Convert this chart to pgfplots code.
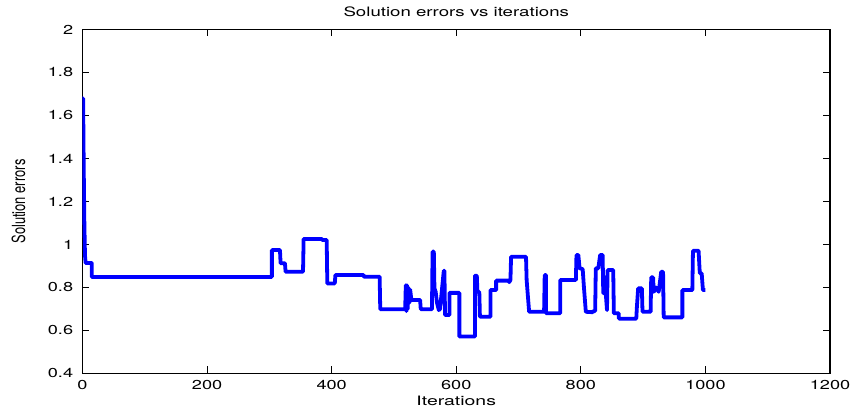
\documentclass[border=0pt]{standalone}
\usepackage{fontspec}
\setmainfont{TeX Gyre Heros}
\usepackage{pgfplots}
\pgfplotsset{compat=1.18}
\begin{document}
\begin{tikzpicture}
\useasboundingbox (-82.5bp,-37.5bp) rectangle (772.5bp,373.5bp);
\begin{axis}[
  at={(0,0)}, anchor=south west,
  scale only axis, width=747.5bp, height=344bp,
  xmin=0, xmax=1200, ymin=0.4, ymax=2,
  xtick={0,200,400,600,800,1000,1200},
  ytick={0.4,0.6,0.8,1,1.2,1.4,1.6,1.8,2},
  scaled x ticks=false,
  /pgf/number format/1000 sep={},
  /pgf/number format/assume math mode=true,
  tick align=inside,
  major tick length=7bp,
  axis line style={line width=1.2bp},
  every tick/.style={black, line width=0.8bp},
  ticklabel style={font=\fontsize{13}{15}\selectfont, xscale=1.4},
  xticklabel style={anchor=base, yshift=-16.5bp},
  yticklabel style={anchor=east, inner sep=0pt, xshift=-6.5bp},
  title={\scalebox{1.44}[1]{Solution errors vs iterations}},
  title style={font=\fontsize{13}{15}\selectfont, at={(axis description cs:0.5,1)}, anchor=base, yshift=7.5bp},
  xlabel={\scalebox{1.5}[1]{Iterations}},
  xlabel style={font=\fontsize{13}{15}\selectfont, at={(axis description cs:0.5,0)}, anchor=base, yshift=-32.5bp},
  ylabel={\scalebox{1}[1.4]{Solution errors}},
  ylabel style={font=\fontsize{13}{15}\selectfont, at={(axis description cs:0,0.5)}, anchor=center, yshift=64bp},
]
\addplot[color={rgb,255:red,0;green,0;blue,255}, line width=3.8bp, line join=round] coordinates {
(0,1.68)(1,1.68)(2,1.35)(3,1.1)(4,0.95)(5,0.914)(15,0.914)(15,0.849)
(304,0.849)(304,0.974)(317,0.974)(318,0.913)(325,0.913)(326,0.873)
(354,0.873)(355,1.026)(384,1.026)(385,1.021)(392,1.021)(393,0.819)
(405,0.819)(406,0.858)(451,0.858)(452,0.85)(477,0.85)(478,0.699)
(518,0.699)(519,0.81)(520,0.69)(521,0.81)(522,0.70)(523,0.80)(525,0.73)
(526,0.79)(528,0.742)(542,0.742)(543,0.699)(561,0.699)(562,0.967)
(564,0.967)(565,0.796)(567,0.78)(569,0.73)(572,0.695)(574,0.70)
(580,0.878)(581,0.878)(582,0.672)(589,0.672)(589,0.775)(605,0.775)
(605,0.572)(630,0.572)(630,0.855)(633,0.855)(634,0.78)(637,0.78)
(638,0.664)(655,0.664)(655,0.788)(664,0.788)(664,0.832)(684,0.832)
(685,0.825)(687,0.835)(688,0.943)(712,0.943)(713,0.835)(715,0.76)
(717,0.687)(741,0.687)(742,0.858)(744,0.858)(744,0.68)(767,0.68)
(767,0.835)(792,0.835)(793,0.951)(796,0.951)(798,0.89)(803,0.885)
(805,0.80)(808,0.687)(819,0.685)(820,0.69)(823,0.69)(824,0.889)
(828,0.889)(831,0.951)(835,0.951)(836,0.773)(838,0.85)(840,0.773)
(842,0.695)(843,0.881)(852,0.881)(853,0.68)(861,0.68)(861,0.655)
(889,0.655)(890,0.71)(892,0.796)(898,0.796)(899,0.687)(912,0.687)
(913,0.847)(916,0.847)(917,0.78)(921,0.80)(925,0.78)(929,0.873)
(932,0.873)(933,0.661)(963,0.661)(963,0.788)(979,0.788)(980,0.971)
(989,0.971)(991,0.866)(994,0.866)(996,0.788)(1000,0.788)
};
\end{axis}
\end{tikzpicture}
\end{document}
